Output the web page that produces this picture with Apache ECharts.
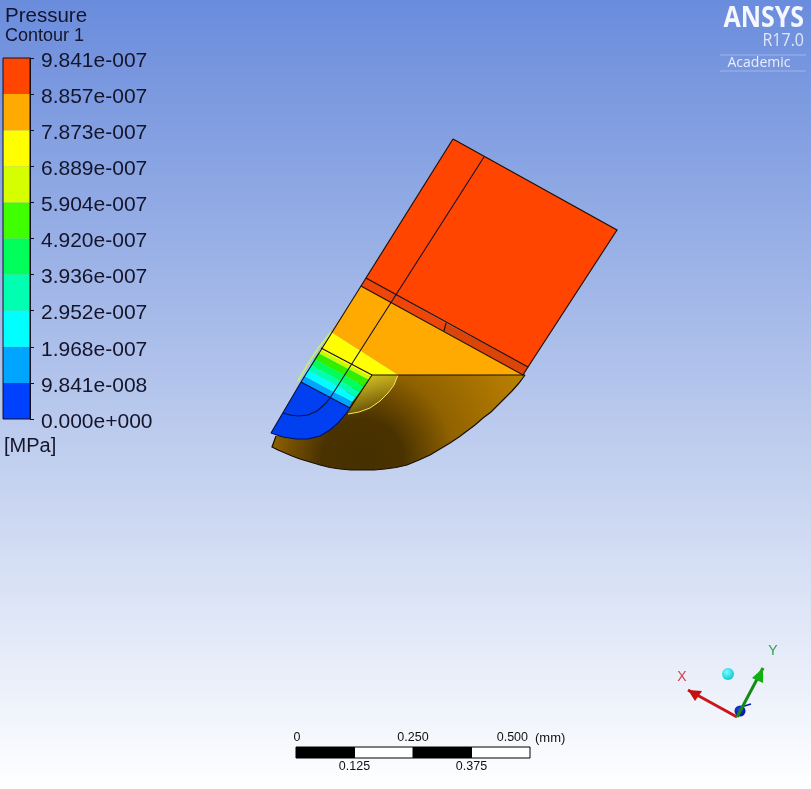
<!DOCTYPE html>
<html>
<head>
<meta charset="utf-8">
<style>html,body{margin:0;padding:0;background:#fff}#c{width:811px;height:789px}</style>
<script src="https://cdn.jsdelivr.net/npm/echarts@6/dist/echarts.min.js"></script>
</head>
<body>
<div id="c"></div>
<script>
// Contour legend
const levelLabels = ['0.000e+000','9.841e-008','1.968e-007','2.952e-007','3.936e-007','4.920e-007','5.904e-007','6.889e-007','7.873e-007','8.857e-007','9.841e-007'];
const levelColors = ['#0040ff','#00a5ff','#00ffff','#00ffb0','#00ff5a','#40ff00','#d5ff00','#ffff00','#ffaa00','#ff4500'];

// Model regions, in image units
const outerArc = [[525,375],[519,383],[512,391],[505,398],[498,405],[491,412],[483,418],[475,425],[467,431],[459,437],[450,443],[440,449],[430,455],[419,460],[407,465],[396,467.5],[385,469],[374,470],[363,470],[351,470],[340,469],[330,467.5],[320,465],[310,462],[300,459],[292,456],[285,453],[278,450],[272,447],[276,436]];
const blueArc = [[350,408],[345,415],[338,423],[330,430],[320,436],[308,439],[296,439],[283,437],[271,433]];
const topBlock = [[453,139],[617,230],[528,367],[366,278]];
const stripLeft = [[366,278],[446,323],[444,331],[361,286]];
const stripRight = [[446,323],[528,367],[523,375],[444,331]];
const orangeZone = [[361,286],[523,375],[398,375],[331,332]];
const yellowBand = [[331,332],[398,375],[372,375],[371,377],[320,350]];
const limeBand = [[320,350],[371,377],[369,380],[318,353]];
const greenBand = [[318,353],[369,380],[364,386],[314,359]];
const springBand = [[314,359],[364,386],[360,392],[311,365]];
const mintBand = [[311,365],[360,392],[356,397],[308,370]];
const cyanBand = [[308,370],[356,397],[352,402],[304,376]];
const skyBand = [[304,376],[352,402],[349,408],[301,382]];
const blueZone = [[301,382]].concat(blueArc);
const brownFan = [[372,375]].concat(outerArc);
const innerFan = [[372,375],[398,375],[394,385],[388,393],[380,401],[370,408],[359,412],[348,414],[351,408]];

// Edges of the mesh bodies, in image units
const edgeTopBlock = [[453,139],[617,230],[528,367],[366,278],[453,139]];
const edgeStripLower = [[366,278],[361,286],[523,375],[528,367]];
const edgeStripStep = [[446,323],[444,331]];
const edgeMiddle = [[484,157],[330,398],[325,404],[317,411],[308,415],[298,416],[290,415],[283,413]];
const edgeLeft = [[361,286],[301,382],[271,433]];
const edgeCrossA = [[321,348],[372,375]];
const edgeCrossB = [[301,382],[350,408]];
const edgeCentre = [[525,375],[372,375],[350,408]];
const edgeInnerArc = [[398,375],[394,385],[388,393],[380,401],[370,408],[359,412],[348,414]];
const edgeLime = [[331,332],[319,347],[309,362],[298,381]];

// Orientation triad, in image units
const triadX = [[737,717],[688,690]];
const triadY = [[737,717],[763,668]];
const triadZ = [[741,707],[751,704]];
const triadXHead = [[688,690],[702,691],[695,701]];
const triadYHead = [[763,668],[763,683],[752,678]];
const triadOrigin = [740,711];
const triadCue = [728,674];

// Scale bar, in mm
const scaleBlack = [[0,0.125],[0.25,0.375]];
const scaleWhite = [[0.125,0.25],[0.375,0.5]];
const scaleTop = [[0,'0'],[0.25,'0.250'],[0.5,'0.500']];
const scaleBottom = [[0.125,'0.125'],[0.375,'0.375']];

const ARIAL = '"Liberation Sans", Arial, sans-serif';
const G = echarts.graphic;

function project(api, pts){ return pts.map(p => api.coord(p)); }
function brownFill(api){
  const c = api.coord([362,460]);
  return new G.RadialGradient(c[0], c[1], 205, [
    {offset:0, color:'#463000'},{offset:0.2, color:'#4a3200'},{offset:0.45, color:'#906200'},{offset:0.75, color:'#b07800'},{offset:1, color:'#c28c00'}
  ], true);
}
const fills = [
  {p:topBlock, f:'#ff4500'},{p:stripLeft, f:'#ee4608'},{p:stripRight, f:'#dc4408'},
  {p:brownFan, f:'brown'},{p:innerFan, f:'inner'},
  {p:orangeZone, f:'#ffaa00'},{p:yellowBand, f:'#ffff00'},{p:limeBand, f:'#c8ff00'},{p:greenBand, f:'#30f000'},
  {p:springBand, f:'#00ff5a'},{p:mintBand, f:'#00ffb0'},{p:cyanBand, f:'#00ffff'},{p:skyBand, f:'#00a5ff'},{p:blueZone, f:'#0040f0'}
];
const strokes = [
  {p:edgeInnerArc, c:'#f3ea50', w:1},{p:edgeLime, c:'#c8f070', w:1.5},
  {p:outerArc, c:'#181000', w:1.2},{p:blueArc, c:'#001060', w:1.2},
  {p:edgeTopBlock, c:'#201008', w:1.2},{p:edgeStripLower, c:'#301005', w:1.2},{p:edgeStripStep, c:'#301005', w:1.2},
  {p:edgeMiddle, c:'#101030', w:1.1},{p:edgeLeft, c:'#101030', w:1.1},{p:edgeCrossA, c:'#101010', w:1.1},
  {p:edgeCrossB, c:'#101050', w:1.1},{p:edgeCentre, c:'#101000', w:1.1}
];
function renderFill(params, api){
  const r = fills[params.dataIndex];
  let fill = r.f;
  if (fill === 'brown') fill = brownFill(api);
  if (fill === 'inner') fill = new G.LinearGradient(0,0,0.3,1,[{offset:0,color:'rgba(255,255,60,0.72)'},{offset:1,color:'rgba(255,255,60,0.1)'}]);
  return {type:'polygon', shape:{points:project(api,r.p)}, style:{fill:fill, stroke:null}};
}
function renderStroke(params, api){
  const r = strokes[params.dataIndex];
  return {type:'polyline', shape:{points:project(api,r.p)}, style:{fill:null, stroke:r.c, lineWidth:r.w}};
}
function renderTriad(params, api){
  const kids = [];
  const line = (p,c,w)=>kids.push({type:'polyline', shape:{points:project(api,p)}, style:{fill:null,stroke:c,lineWidth:w}});
  const poly = (p,c)=>kids.push({type:'polygon', shape:{points:project(api,p)}, style:{fill:c}});
  const ball = (pt,r,inner,outer)=>{const c=api.coord(pt);kids.push({type:'circle',shape:{cx:c[0],cy:c[1],r:r},style:{fill:new G.RadialGradient(0.4,0.35,0.7,[{offset:0,color:inner},{offset:1,color:outer}])}});};
  ball(triadCue,6,'#7ffcff','#00c8d0');
  ball(triadOrigin,5.5,'#2040e0','#00109a');
  line(triadZ,'#0818b0',1.5);
  line(triadX,'#c81818',3); poly(triadXHead,'#c80c10');
  line(triadY,'#168a16',3); poly(triadYHead,'#10b010');
  return {type:'group', children:kids};
}
function renderLegend(params, api){
  const i = params.dataIndex;
  const a = api.coord([0,i]), b = api.coord([1,i+1]);
  return {type:'rect', shape:{x:a[0],y:b[1],width:b[0]-a[0],height:a[1]-b[1]}, style:{fill:levelColors[i]}};
}
function renderScale(color){
  return function(params, api){
    const a = api.coord([api.value(0),0]), b = api.coord([api.value(1),1]);
    return {type:'rect', shape:{x:a[0],y:b[1],width:b[0]-a[0],height:a[1]-b[1]}, style:{fill:color, stroke:'#000', lineWidth:1}};
  };
}
function renderScaleText(list, offsetY){
  return function(params, api){
    const item = list[params.dataIndex];
    const c = api.coord([api.value(0),0]);
    const v = item[0];
    return {type:'text', x: c[0] + (v===0.5 ? -2 : v===0 ? 1 : 0), y: c[1]+offsetY,
      style:{text:item[1], fill:'#111', font:'12.5px '+ARIAL, align:v===0.5?'right':'center', verticalAlign:'middle'}};
  };
}
const text = (x,y,t,font,fill,extra,el)=>Object.assign({type:'text',x:x,y:y,style:Object.assign({text:t,font:font,fill:fill,verticalAlign:'middle'},extra||{})},el||{});

const chart = echarts.init(document.getElementById('c'), null, {renderer:'canvas'});
chart.setOption({
  animation:false,
  backgroundColor:new G.LinearGradient(0,0,0,1,[{offset:0,color:'#6a8cdc'},{offset:0.5,color:'#b5c6ec'},{offset:1,color:'#ffffff'}]),
  grid:[
    {left:0, top:0, width:811, height:789},
    {left:3, top:58, width:27, height:361, show:true, z:3, backgroundColor:'transparent', borderColor:'#101020', borderWidth:1},
    {left:296, top:747, width:234, height:11}
  ],
  xAxis:[
    {gridIndex:0, type:'value', min:0, max:811, show:false},
    {gridIndex:1, type:'value', min:0, max:1, show:false},
    {gridIndex:2, type:'value', min:0, max:0.5, show:false}
  ],
  yAxis:[
    {gridIndex:0, type:'value', min:0, max:789, inverse:true, show:false},
    {gridIndex:1, type:'category', position:'right', boundaryGap:false, data:levelLabels,
      axisLine:{show:true, onZero:false, lineStyle:{color:'#101020', width:1}},
      axisTick:{show:true, length:4, lineStyle:{color:'#101020'}},
      axisLabel:{show:true, interval:0, margin:11, verticalAlign:'top', lineHeight:6, fontFamily:'"Liberation Sans", Arial, sans-serif', fontSize:21, color:'#14142a'}},
    {gridIndex:2, type:'value', min:0, max:1, show:false}
  ],
  series:[
    {type:'custom', coordinateSystem:'cartesian2d', xAxisIndex:0, yAxisIndex:0, clip:false, renderItem:renderFill, data:fills.map((_,i)=>[i])},
    {type:'custom', coordinateSystem:'cartesian2d', xAxisIndex:0, yAxisIndex:0, clip:false, renderItem:renderStroke, data:strokes.map((_,i)=>[i])},
    {type:'custom', coordinateSystem:'cartesian2d', xAxisIndex:0, yAxisIndex:0, clip:false, renderItem:renderTriad, data:[[0]]},
    {type:'custom', coordinateSystem:'cartesian2d', xAxisIndex:1, yAxisIndex:1, clip:false, renderItem:renderLegend, data:levelColors.map((_,i)=>[i]), z:1},
    {type:'custom', coordinateSystem:'cartesian2d', xAxisIndex:2, yAxisIndex:2, clip:false, renderItem:renderScale('#000'), data:scaleBlack},
    {type:'custom', coordinateSystem:'cartesian2d', xAxisIndex:2, yAxisIndex:2, clip:false, renderItem:renderScale('#fff'), data:scaleWhite},
    {type:'custom', coordinateSystem:'cartesian2d', xAxisIndex:2, yAxisIndex:2, clip:false, renderItem:renderScaleText(scaleTop,-20), data:scaleTop.map(d=>[d[0]])},
    {type:'custom', coordinateSystem:'cartesian2d', xAxisIndex:2, yAxisIndex:2, clip:false, renderItem:renderScaleText(scaleBottom,9), data:scaleBottom.map(d=>[d[0]])}
  ],
  graphic:[
    text(5,16,'Pressure','20.5px '+ARIAL,'#14142a'),
    text(5,36,'Contour 1','18px '+ARIAL,'#14142a'),
    text(4,446,'[MPa]','20px '+ARIAL,'#14142a'),
    text(535,738,'(mm)','13px '+ARIAL,'#111'),
    text(804,19,'ANSYS','bold 29px "Open Sans", sans-serif','#f4f7fd',{align:'right'},{scaleX:0.86}),
    text(804,41,'R17.0','18px "Open Sans", sans-serif','#dfe7f8',{align:'right'},{scaleX:0.89}),
    text(759,63,'Academic','14px "Open Sans", sans-serif','#e8eefa',{align:'center'}),
    text(682,677,'X','14px '+ARIAL,'#d04050',{align:'center'}),
    text(773,651,'Y','14px '+ARIAL,'#30a050',{align:'center'}),
    {type:'line',shape:{x1:720,y1:55,x2:806,y2:55},style:{stroke:'rgba(255,255,255,0.3)',lineWidth:1}},
    {type:'line',shape:{x1:720,y1:71,x2:806,y2:71},style:{stroke:'rgba(255,255,255,0.3)',lineWidth:1}}
  ]
});
</script>
</body>
</html>
